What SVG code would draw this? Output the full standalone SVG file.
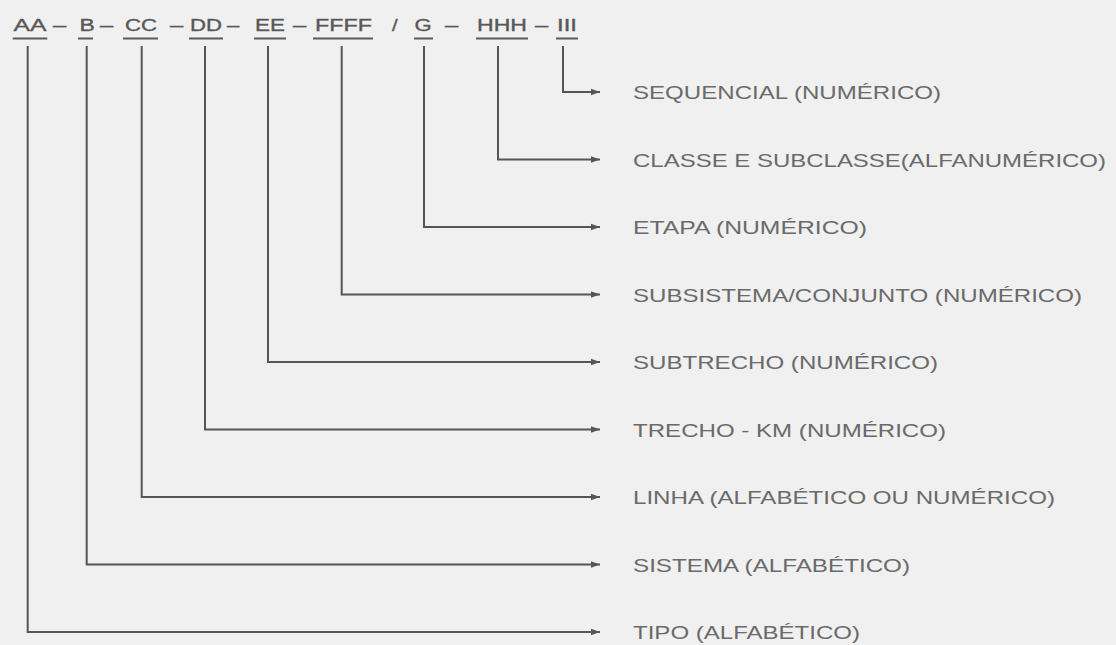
<svg xmlns="http://www.w3.org/2000/svg" width="1116" height="645" viewBox="0 0 1116 645">
<style>
.hd{font-family:"Liberation Sans",Arial,sans-serif;font-size:17px;fill:#585858;stroke:#585858;stroke-width:0.35}
.ul{stroke:#5a5a5a;stroke-width:2}
.lb{font-family:"Liberation Sans",Arial,sans-serif;font-size:19px;fill:#6a6a6a}
.cn{fill:none;stroke:#555;stroke-width:2;marker-end:url(#ah)}
</style>
<defs>
<marker id="ah" markerUnits="userSpaceOnUse" markerWidth="10" markerHeight="8" refX="9" refY="4" orient="auto">
<path d="M0,0.8 L9,4 L0,7.2 Z" fill="#555"/>
</marker>
</defs>
<rect width="1116" height="645" fill="#f0f0f0"/>
<g id="header">
<text class="hd" x="13.5" y="31" textLength="33" lengthAdjust="spacingAndGlyphs">AA</text>
<text class="hd" transform="matrix(1.4,0,0,1,53,31)">–</text>
<text class="hd" transform="matrix(1.35,0,0,1,79.5,31)">B</text>
<text class="hd" transform="matrix(1.4,0,0,1,100,31)">–</text>
<text class="hd" x="125" y="31" textLength="32" lengthAdjust="spacingAndGlyphs">CC</text>
<text class="hd" transform="matrix(1.4,0,0,1,170,31)">–</text>
<text class="hd" x="190" y="31" textLength="32" lengthAdjust="spacingAndGlyphs">DD</text>
<text class="hd" transform="matrix(1.3,0,0,1,227,31)">–</text>
<text class="hd" x="255" y="31" textLength="30" lengthAdjust="spacingAndGlyphs">EE</text>
<text class="hd" transform="matrix(1.4,0,0,1,293,31)">–</text>
<text class="hd" x="315" y="31" textLength="57" lengthAdjust="spacingAndGlyphs">FFFF</text>
<text class="hd" transform="matrix(1.2,0,0,1,392,31)">/</text>
<text class="hd" transform="matrix(1.3,0,0,1,414.5,31)">G</text>
<text class="hd" transform="matrix(1.4,0,0,1,445,31)">–</text>
<text class="hd" x="477" y="31" textLength="50" lengthAdjust="spacingAndGlyphs">HHH</text>
<text class="hd" transform="matrix(1.4,0,0,1,535,31)">–</text>
<text class="hd" x="557" y="31" textLength="20" lengthAdjust="spacingAndGlyphs">III</text>
<line class="ul" x1="12.7" y1="38.5" x2="47.3" y2="38.5"/>
<line class="ul" x1="78" y1="38.5" x2="93" y2="38.5"/>
<line class="ul" x1="123" y1="38.5" x2="158" y2="38.5"/>
<line class="ul" x1="189" y1="38.5" x2="223" y2="38.5"/>
<line class="ul" x1="254" y1="38.5" x2="286" y2="38.5"/>
<line class="ul" x1="313" y1="38.5" x2="373" y2="38.5"/>
<line class="ul" x1="414" y1="38.5" x2="433" y2="38.5"/>
<line class="ul" x1="476" y1="38.5" x2="528" y2="38.5"/>
<line class="ul" x1="556" y1="38.5" x2="578" y2="38.5"/>
</g>
<g id="connectors">
<path class="cn" d="M563,46 V92 H600"/>
<path class="cn" d="M498,46 V159.5 H600"/>
<path class="cn" d="M424,46 V227 H600"/>
<path class="cn" d="M341.7,46 V294.5 H600"/>
<path class="cn" d="M268,46 V362 H600"/>
<path class="cn" d="M205,46 V429.5 H600"/>
<path class="cn" d="M141.7,46 V497 H600"/>
<path class="cn" d="M86.7,46 V564.5 H600"/>
<path class="cn" d="M27.7,46 V632 H600"/>
</g>
<g id="label-sequencial"><text class="lb" x="633" y="99" textLength="308" lengthAdjust="spacingAndGlyphs">SEQUENCIAL (NUMÉRICO)</text></g>
<g id="label-classe"><text class="lb" x="633" y="166.5" textLength="473" lengthAdjust="spacingAndGlyphs">CLASSE E SUBCLASSE(ALFANUMÉRICO)</text></g>
<g id="label-etapa"><text class="lb" x="633" y="234" textLength="234" lengthAdjust="spacingAndGlyphs">ETAPA (NUMÉRICO)</text></g>
<g id="label-subsistema"><text class="lb" x="633" y="301.5" textLength="449" lengthAdjust="spacingAndGlyphs">SUBSISTEMA/CONJUNTO (NUMÉRICO)</text></g>
<g id="label-subtrecho"><text class="lb" x="633" y="369" textLength="305" lengthAdjust="spacingAndGlyphs">SUBTRECHO (NUMÉRICO)</text></g>
<g id="label-trecho"><text class="lb" x="633" y="436.5" textLength="313" lengthAdjust="spacingAndGlyphs">TRECHO - KM (NUMÉRICO)</text></g>
<g id="label-linha"><text class="lb" x="633" y="504" textLength="422" lengthAdjust="spacingAndGlyphs">LINHA (ALFABÉTICO OU NUMÉRICO)</text></g>
<g id="label-sistema"><text class="lb" x="633" y="571.5" textLength="277" lengthAdjust="spacingAndGlyphs">SISTEMA (ALFABÉTICO)</text></g>
<g id="label-tipo"><text class="lb" x="633" y="639" textLength="227" lengthAdjust="spacingAndGlyphs">TIPO (ALFABÉTICO)</text></g>
</svg>
